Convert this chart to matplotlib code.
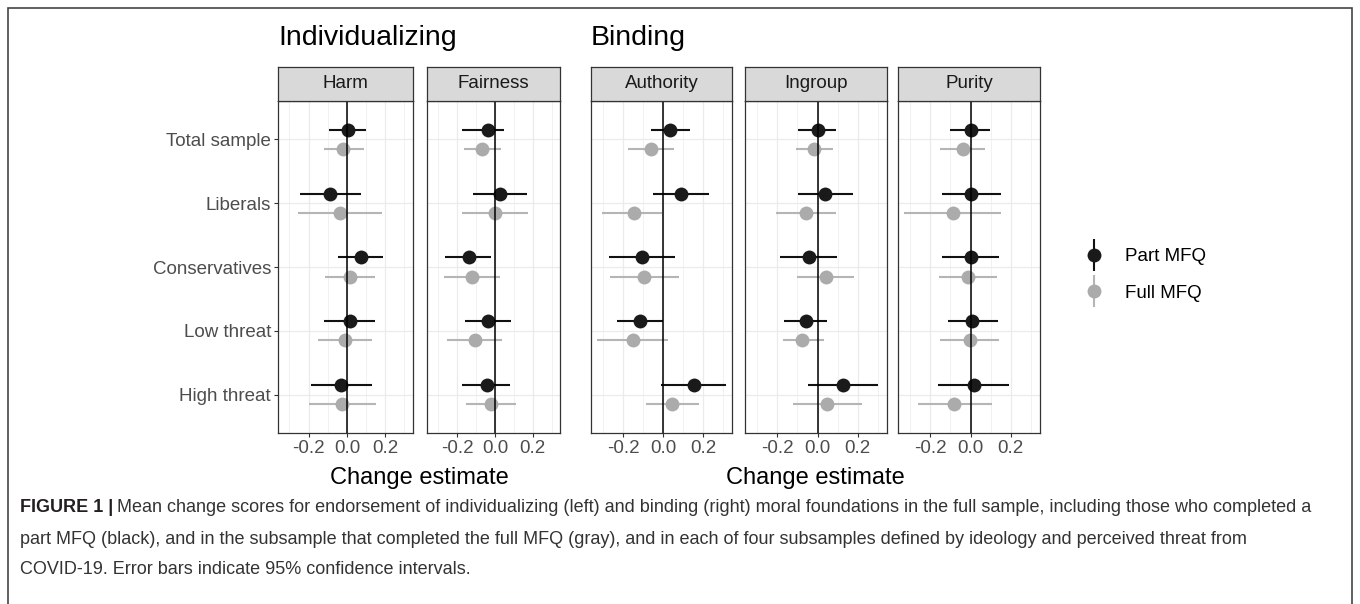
import numpy as np
import matplotlib.pyplot as plt
from matplotlib.patches import Rectangle
from matplotlib.container import ErrorbarContainer
from matplotlib.legend_handler import HandlerErrorbar

plt.rcParams['font.family'] = ['Liberation Sans', 'DejaVu Sans']

# Data
groups = ['Total sample', 'Liberals', 'Conservatives', 'Low threat', 'High threat']
foundations = ['Harm', 'Fairness', 'Authority', 'Ingroup', 'Purity']

# rows: foundations, columns: groups
part_est = [[0.005, -0.087, 0.075, 0.017, -0.033],
            [-0.038, 0.026, -0.139, -0.035, -0.043],
            [0.037, 0.088, -0.103, -0.113, 0.153],
            [0.000, 0.036, -0.043, -0.056, 0.126],
            [0.000, 0.003, 0.000, 0.007, 0.017]]
part_lo = [[-0.095, -0.247, -0.045, -0.122, -0.190],
           [-0.174, -0.117, -0.266, -0.157, -0.177],
           [-0.058, -0.050, -0.270, -0.228, -0.012],
           [-0.098, -0.098, -0.187, -0.167, -0.048],
           [-0.103, -0.140, -0.143, -0.110, -0.160]]
part_hi = [[0.097, 0.071, 0.190, 0.148, 0.132],
           [0.047, 0.169, -0.021, 0.083, 0.082],
           [0.133, 0.230, 0.058, 0.000, 0.313],
           [0.093, 0.174, 0.098, 0.045, 0.300],
           [0.095, 0.153, 0.142, 0.137, 0.190]]

full_est = [[-0.021, -0.038, 0.017, -0.012, -0.024],
            [-0.070, 0.000, -0.122, -0.104, -0.021],
            [-0.058, -0.147, -0.095, -0.150, 0.045],
            [-0.018, -0.056, 0.043, -0.076, 0.048],
            [-0.038, -0.088, -0.013, -0.005, -0.080]]
full_lo = [[-0.122, -0.256, -0.117, -0.150, -0.198],
           [-0.165, -0.174, -0.270, -0.252, -0.155],
           [-0.175, -0.303, -0.263, -0.328, -0.087],
           [-0.109, -0.208, -0.100, -0.170, -0.120],
           [-0.150, -0.330, -0.158, -0.152, -0.260]]
full_hi = [[0.089, 0.181, 0.148, 0.129, 0.153],
           [0.031, 0.174, 0.026, 0.040, 0.113],
           [0.053, -0.005, 0.078, 0.025, 0.178],
           [0.078, 0.094, 0.180, 0.031, 0.221],
           [0.073, 0.150, 0.132, 0.142, 0.107]]

series_names = ['Part MFQ', 'Full MFQ']

# Layout in pixels
W, H = 1360, 604
panel_x = [(278, 413), (427, 560), (591, 732), (745, 887), (898, 1040)]
strip_top, panel_top, panel_bot = 67, 101, 433

fig = plt.figure(figsize=(W / 100, H / 100), dpi=100)


def px_axes(x0, y0, x1, y1):
    return fig.add_axes([x0 / W, 1 - y1 / H, (x1 - x0) / W, (y1 - y0) / H])


dark = '#333333'
handles = []
for i, name in enumerate(foundations):
    x0, x1 = panel_x[i]
    ax = px_axes(x0, panel_top, x1, panel_bot)
    y = np.arange(len(groups))
    styles = [(part_est, part_lo, part_hi, -0.15, '#1A1A1A', '#111111'),
              (full_est, full_lo, full_hi, 0.15, '#ABABAB', '#B5B5B5')]
    for est, lo, hi, off, pc, lc in styles:
        ax.hlines(y + off, lo[i], hi[i], color=lc, lw=1.5, zorder=2)
        ax.plot(est[i], y + off, 'o', color=pc, ms=10, mew=0, zorder=3)
        if i == 0:
            h = ax.errorbar([np.nan], [np.nan], yerr=[0.1], fmt='o', color=pc,
                            ecolor=lc, ms=10, mew=0, elinewidth=1.5, capsize=0)
            handles.append(h)
    ax.axvline(0, color='black', lw=1.1, zorder=4)

    ax.set_xlim(-0.36, 0.345)
    ax.set_ylim(4.6, -0.6)
    ax.set_xticks([-0.2, 0.0, 0.2])
    ax.set_xticklabels(['-0.2', '0.0', '0.2'])
    ax.set_xticks([-0.3, -0.1, 0.1, 0.3], minor=True)
    ax.set_yticks(y)
    ax.set_yticklabels(groups)
    ax.grid(which='major', color='#EBEBEB', lw=0.9)
    ax.grid(which='minor', axis='x', color='#EBEBEB', lw=0.5)
    ax.set_axisbelow(True)
    ax.tick_params(which='major', length=3, width=0.8, color=dark,
                   labelcolor='#4D4D4D', labelsize=13.5, pad=2)
    ax.tick_params(which='minor', length=0)
    if i != 0:
        ax.tick_params(axis='y', length=0, labelleft=False)
    for s in ax.spines.values():
        s.set_color(dark)
        s.set_linewidth(0.9)

    strip = px_axes(x0, strip_top, x1, panel_top)
    strip.set_facecolor('#D9D9D9')
    strip.set_xticks([])
    strip.set_yticks([])
    for s in strip.spines.values():
        s.set_color(dark)
        s.set_linewidth(0.9)
    strip.text(0.5, 0.5, name, ha='center', va='center', fontsize=13.5,
               color='#1A1A1A', transform=strip.transAxes)

# Group titles and axis titles
fig.text(278 / W, 1 - 38 / H, 'Individualizing', fontsize=20.5, va='center', color='black')
fig.text(591 / W, 1 - 38 / H, 'Binding', fontsize=20.5, va='center', color='black')
fig.text((278 + 560) / 2 / W, 1 - 478 / H, 'Change estimate', fontsize=17,
         ha='center', va='center', color='black')
fig.text((591 + 1040) / 2 / W, 1 - 478 / H, 'Change estimate', fontsize=17,
         ha='center', va='center', color='black')

# Legend
fig.legend(handles, series_names, loc='center left',
           bbox_to_anchor=(1064 / W, 1 - 275 / H), frameon=False,
           fontsize=13.5, handlelength=1.4, handletextpad=0.95,
           labelspacing=1.05,
           handler_map={ErrorbarContainer: HandlerErrorbar(yerr_size=0.85)})

# Outer frame
fig.patches.append(Rectangle((8 / W, -0.05), (1352 - 8) / W, 1 - 8 / H + 0.05,
                             transform=fig.transFigure, fill=False,
                             ec='#444444', lw=1.2))

# Caption
cap_size = 13
bold = fig.text(20 / W, 1 - 508 / H, 'FIGURE 1 |', fontsize=cap_size,
                weight='bold', va='center', color='#231F20')
renderer = fig.canvas.get_renderer()
bb = bold.get_window_extent(renderer)
fig.text((bb.x1 + 4) / W, 1 - 508 / H,
         'Mean change scores for endorsement of individualizing (left) and binding '
         '(right) moral foundations in the full sample, including those who completed a',
         fontsize=cap_size, va='center', color='#333333')
fig.text(20 / W, 1 - 539 / H,
         'part MFQ (black), and in the subsample that completed the full MFQ (gray), '
         'and in each of four subsamples defined by ideology and perceived threat from',
         fontsize=cap_size, va='center', color='#333333')
fig.text(20 / W, 1 - 570 / H,
         'COVID-19. Error bars indicate 95% confidence intervals.',
         fontsize=cap_size, va='center', color='#333333')

fig.savefig('out.png', dpi=100)
